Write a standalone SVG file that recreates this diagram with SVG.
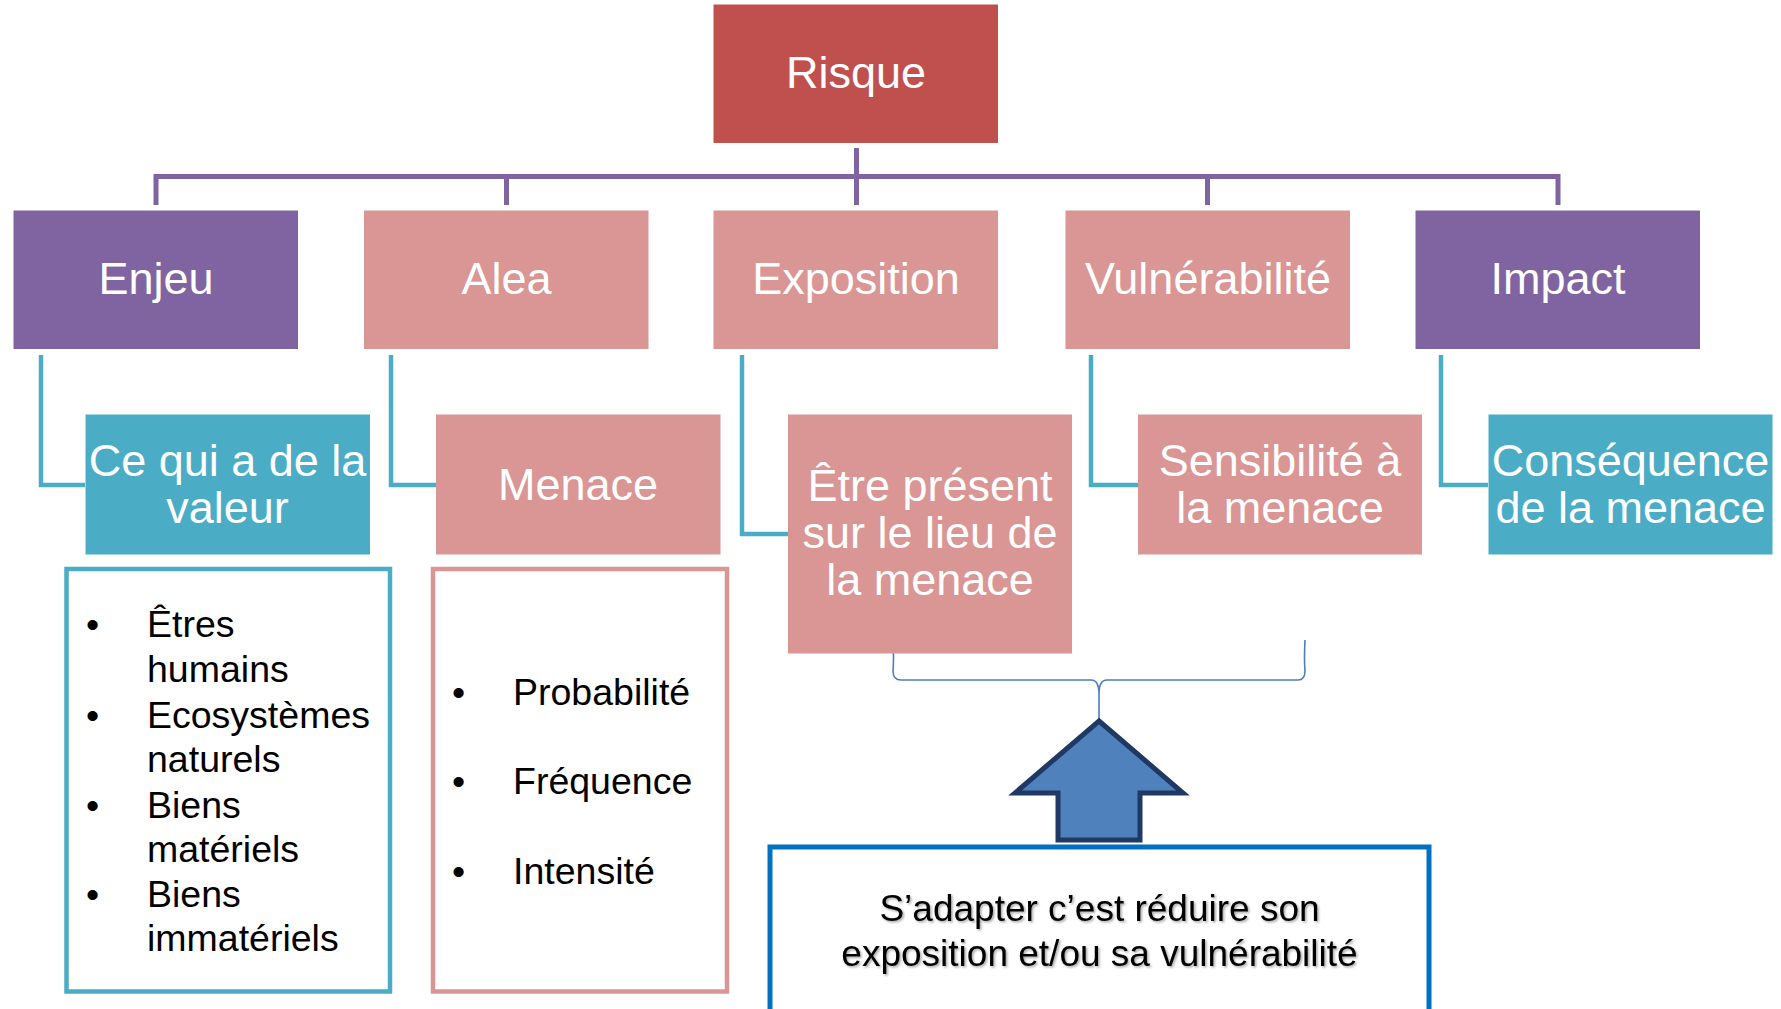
<svg xmlns="http://www.w3.org/2000/svg" width="1781" height="1009" viewBox="0 0 1781 1009">
<defs>
<style>
text{font-family:"Liberation Sans",Arial,sans-serif}
.w{fill:#fff;font-size:45px;text-anchor:middle}
.b{fill:#000;font-size:37.5px}
.c{fill:#000;font-size:37px;text-anchor:middle}
.red{fill:#C0504D}
.pur{fill:#8064A2}
.pink{fill:#D99694}
.teal{fill:#4BACC6}
.tree{fill:none;stroke:#8064A2;stroke-width:5}
.elb{fill:none;stroke:#4BACC6;stroke-width:4.5}
.brace{fill:none;stroke:#4A7EBB;stroke-width:1.6}
</style>
<filter id="sh" x="-10%" y="-30%" width="120%" height="160%">
<feDropShadow dx="1.5" dy="1.5" stdDeviation="0.8" flood-color="#000" flood-opacity="0.35"/>
</filter>
</defs>
<rect width="1781" height="1009" fill="#fff"/>

<g id="connectors">
<path class="tree" d="M856.5,148 V176.5 H156 V205"/>
<path class="tree" d="M856.5,176.5 H506.5 V205"/>
<path class="tree" d="M856.5,176.5 V205"/>
<path class="tree" d="M856.5,176.5 H1207.5 V205"/>
<path class="tree" d="M856.5,176.5 H1558 V205"/>
<path class="elb" d="M41,355 V485 H85"/>
<path class="elb" d="M391,355 V485 H436"/>
<path class="elb" d="M742,355 V534 H788"/>
<path class="elb" d="M1091,355 V485 H1138"/>
<path class="elb" d="M1441,355 V485 H1488"/>
<path class="brace" d="M893,640 Q894,660 893,671 Q893,680 901,680 L1091,680 Q1099,680 1099,694 L1099,720 M1099,694 Q1099,680 1107,680 L1298,680 Q1305,680 1305,671 Q1304,660 1305,640"/>
</g>

<g id="risque">
<rect class="red" x="713.5" y="4.5" width="284.5" height="138.5"/>
<text class="w" x="856" y="88">Risque</text>
</g>

<g id="enjeu">
<rect class="pur" x="13.5" y="210.5" width="284.5" height="138.5"/>
<text class="w" x="156" y="294">Enjeu</text>
</g>
<g id="alea">
<rect class="pink" x="364" y="210.5" width="284.5" height="138.5"/>
<text class="w" x="506.5" y="294">Alea</text>
</g>
<g id="exposition">
<rect class="pink" x="713.5" y="210.5" width="284.5" height="138.5"/>
<text class="w" x="856" y="294">Exposition</text>
</g>
<g id="vulnerabilite">
<rect class="pink" x="1065.5" y="210.5" width="284.5" height="138.5"/>
<text class="w" x="1208" y="294">Vulnérabilité</text>
</g>
<g id="impact">
<rect class="pur" x="1415.5" y="210.5" width="284.5" height="138.5"/>
<text class="w" x="1558" y="294">Impact</text>
</g>

<g id="valeur">
<rect class="teal" x="85.5" y="414.5" width="284.5" height="140"/>
<text class="w" x="227.5" y="475.5">Ce qui a de la</text>
<text class="w" x="227.5" y="522.5">valeur</text>
</g>
<g id="menace">
<rect class="pink" x="436" y="414.5" width="284.5" height="140"/>
<text class="w" x="578" y="500">Menace</text>
</g>
<g id="present">
<rect class="pink" x="788" y="414.5" width="284" height="239"/>
<text class="w" x="930" y="501">Être présent</text>
<text class="w" x="930" y="548">sur le lieu de</text>
<text class="w" x="930" y="595">la menace</text>
</g>
<g id="sensibilite">
<rect class="pink" x="1138" y="414.5" width="284" height="140"/>
<text class="w" x="1280" y="475.5">Sensibilité à</text>
<text class="w" x="1280" y="522.5">la menace</text>
</g>
<g id="consequence">
<rect class="teal" x="1488.5" y="414.5" width="284" height="140"/>
<text class="w" x="1630.5" y="475.5">Conséquence</text>
<text class="w" x="1630.5" y="522.5">de la menace</text>
</g>

<g id="liste-enjeu">
<rect x="66.5" y="569" width="323.5" height="422.5" fill="#fff" stroke="#4BACC6" stroke-width="4.5"/>
<text class="b" x="86" y="637">•</text>
<text class="b" x="147" y="637">Êtres</text>
<text class="b" x="147" y="682">humains</text>
<text class="b" x="86" y="727.5">•</text>
<text class="b" x="147" y="727.5">Ecosystèmes</text>
<text class="b" x="147" y="772">naturels</text>
<text class="b" x="86" y="817.5">•</text>
<text class="b" x="147" y="817.5">Biens</text>
<text class="b" x="147" y="861.5">matériels</text>
<text class="b" x="86" y="907">•</text>
<text class="b" x="147" y="907">Biens</text>
<text class="b" x="147" y="951">immatériels</text>
</g>

<g id="liste-alea">
<rect x="433" y="569" width="294" height="422.5" fill="#fff" stroke="#D99694" stroke-width="4.5"/>
<text class="b" x="452" y="704.5">•</text>
<text class="b" x="513" y="704.5">Probabilité</text>
<text class="b" x="452" y="794">•</text>
<text class="b" x="513" y="794">Fréquence</text>
<text class="b" x="452" y="884">•</text>
<text class="b" x="513" y="884">Intensité</text>
</g>

<g id="fleche">
<polygon points="1099,721 1183,793 1140,793 1140,840 1058,840 1058,793 1015,793" fill="#4F81BD" stroke="#1F3864" stroke-width="5" stroke-linejoin="miter"/>
</g>

<g id="adapter">
<rect x="770" y="847" width="659" height="200" fill="#fff" stroke="#0070C0" stroke-width="5"/>
<text class="c" x="1099.5" y="921" filter="url(#sh)">S’adapter c’est réduire son</text>
<text class="c" x="1099.5" y="966" filter="url(#sh)">exposition et/ou sa vulnérabilité</text>
</g>
</svg>
